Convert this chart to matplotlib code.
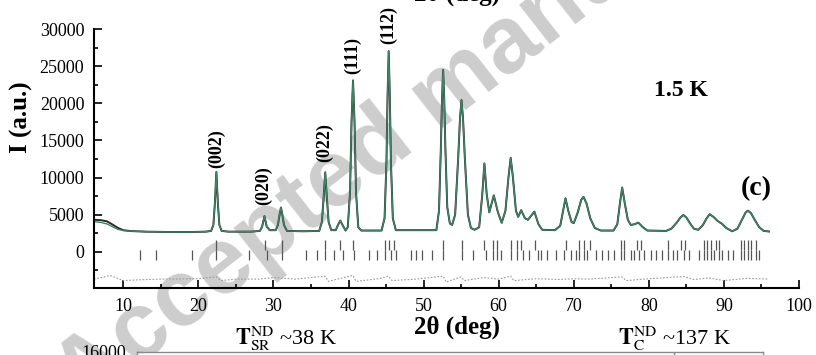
import numpy as np
import matplotlib.pyplot as plt
from matplotlib.ticker import MultipleLocator

plt.rcParams['font.family'] = ['Liberation Serif', 'DejaVu Serif']
plt.rcParams['mathtext.fontset'] = 'stix'

# observed profile, traced vertices (2theta in deg, intensity)
two_theta = [6.1, 7.0, 7.8, 8.5, 9.3, 10.0, 11.0, 13.0, 16.0, 19.0, 21.0, 21.7, 22.0, 22.2, 22.4, 22.6,
             22.8, 23.1, 24.0, 27.0, 28.2, 28.5, 28.8, 29.1, 29.5, 30.3, 30.6, 30.85, 31.0, 31.15,
             31.4, 31.8, 34.0, 36.1, 36.45, 36.7, 36.9, 37.1, 37.35, 37.7, 38.3, 38.6, 38.9, 39.2,
             39.6, 39.9, 40.2, 40.4, 40.6, 40.8, 41.0, 41.3, 41.7, 44.4, 44.8, 45.05, 45.2, 45.35,
             45.5, 45.65, 45.9, 46.3, 51.7, 52.05, 52.3, 52.45, 52.6, 52.75, 52.9, 53.15, 53.5, 53.8,
             54.2, 54.6, 54.85, 55.05, 55.25, 55.5, 55.9, 56.3, 56.8, 57.4, 57.8, 58.1, 58.4, 58.75,
             59.35, 59.9, 60.4, 60.9, 61.3, 61.6, 61.9, 62.3, 62.6, 63.0, 63.5, 63.9, 64.75, 65.3,
             65.8, 67.5, 68.2, 68.6, 68.9, 69.25, 69.7, 70.0, 70.5, 71.0, 71.3, 71.7, 72.2, 72.8,
             73.6, 75.3, 75.8, 76.15, 76.45, 76.8, 77.2, 77.6, 78.1, 78.6, 79.2, 79.8, 82.3, 83.0,
             83.7, 84.2, 84.6, 85.0, 85.5, 86.0, 86.6, 87.2, 87.7, 88.1, 88.6, 89.2, 89.7, 90.3,
             91.1, 91.8, 92.4, 92.9, 93.2, 93.6, 94.1, 94.7, 95.3, 96.0]
i_obs = [4300, 4250, 4100, 3700, 3200, 2900, 2780, 2700, 2650, 2650, 2700, 2800, 3600, 6500, 10750, 6500,
         3600, 2800, 2700, 2700, 2800, 3400, 4800, 3400, 2900, 2900, 3600, 5200, 5950, 5200,
         3600, 2800, 2750, 2800, 4000, 7500, 10700, 7500, 4000, 2900, 2900, 3600, 4200, 3600,
         2850, 3300, 8000, 17500, 23100, 17500, 8000, 3300, 2850, 2850, 4500, 12000, 21000, 27050,
         21000, 12000, 4500, 2900, 2900, 5500, 14000, 20500, 24500, 20500, 14000, 6000, 3800, 3600,
         5000, 12500, 18000, 20450, 18000, 12500, 5000, 3200, 2950, 3300, 7500, 11900, 7800, 5300,
         7600, 5300, 3900, 5500, 10000, 12650, 10000, 5500, 4700, 5600, 4500, 4300, 5400, 3700,
         2950, 2900, 3500, 5600, 7200, 5600, 4000, 3850, 5200, 7000, 7400, 6500, 4500, 3200,
         2850, 2850, 3700, 6500, 8650, 6500, 4300, 3600, 3700, 3920, 3300, 2850, 2800, 3100,
         3900, 4600, 4950, 4600, 3800, 3100, 2950, 3600, 4500, 5050, 4700, 4100, 3800, 3200,
         2750, 3100, 4300, 5300, 5530, 5200, 4300, 3300, 2800, 2720]
# calculated profile departs from the data only at low angle
calc_low = [4050, 3950, 3750, 3400, 3000, 2850]
i_calc = calc_low + i_obs[len(calc_low):]

# difference curve
diff_x = [6.1, 7.5, 8.2, 9.0, 10.0, 12.0, 15.0, 20.0, 22.4, 23.0, 25.0, 28.0, 30.0, 33.0, 36.9, 37.3,
          40.6, 41.0, 44.0, 45.3, 45.8, 49.0, 52.6, 53.0, 55.0, 55.4, 58.0, 60.0, 61.6, 62.0, 65.0,
          68.0, 70.0, 72.0, 76.4, 77.0, 80.0, 84.6, 86.0, 88.0, 90.0, 93.0, 96.0]
diff_y = [-3700, -3400, -3200, -3500, -3900, -3800, -3700, -3650, -3400, -3900, -3700, -3700, -3500,
          -3700, -3300, -4000, -3200, -4000, -3650, -3300, -3900, -3700, -3300, -4100, -3400, -3900,
          -3500, -3700, -3300, -3900, -3650, -3750, -3650, -3700, -3400, -3900, -3650, -3350, -3750,
          -3550, -3900, -3600, -3700]

# Bragg reflection positions
nuc_ticks = [22.4, 28.9, 31.1, 36.9, 38.9, 40.6, 44.9, 45.35, 46.1, 52.6, 55.1, 58.1, 59.3, 59.8,
             61.6, 62.4, 63.0, 64.8, 68.9, 70.7, 71.3, 72.1, 76.3, 76.7, 78.4, 78.9, 82.6, 84.3,
             84.8, 87.3, 87.8, 88.3, 88.9, 89.4, 92.3, 92.7, 93.2, 93.6, 94.3]
mag_ticks = [12.2, 14.4, 19.2, 22.4, 26.8, 29.2, 31.1, 34.3, 35.8, 36.9, 38.0, 39.2, 40.7, 42.7,
             43.8, 44.9, 45.6, 46.3, 48.3, 49.0, 49.8, 51.1, 52.6, 55.1, 56.6, 58.3, 59.3, 59.8,
             60.3, 61.6, 62.5, 63.2, 64.0, 65.2, 65.6, 66.5, 67.6, 68.7, 69.6, 70.3, 70.7, 71.4,
             71.8, 72.9, 73.8, 74.5, 75.4, 76.3, 76.7, 77.6, 78.0, 78.7, 79.4, 80.3, 80.9, 81.8,
             82.6, 83.2, 83.8, 84.7, 85.4, 86.7, 87.4, 87.8, 88.3, 88.7, 89.4, 89.8, 90.5, 91.2,
             92.3, 92.7, 93.2, 93.6, 94.3, 94.7]

peak_labels = ['(002)', '(020)', '(022)', '(111)', '(112)']
label_x = [22.4, 28.7, 36.8, 40.5, 45.4]
label_y = [11300, 6300, 12100, 24000, 28000]

fig = plt.figure(figsize=(8.16, 3.55), dpi=100)
ax = fig.add_axes([94/816, 1 - 288/355, 705/816, 259.5/355])
ax.set_facecolor('none')

ax.plot(two_theta, i_obs, color='#2a2a2a', lw=1.4)
ax.plot(two_theta, i_calc, color='#3d8566', lw=1.0)
ax.plot(diff_x, diff_y, color='#9a9a9a', lw=0.8, ls=(0, (1.5, 1.5)))
ax.vlines(nuc_ticks, 250, 1600, color='#555555', lw=0.9)
ax.vlines(mag_ticks, -1100, 250, color='#555555', lw=0.9)

for lab, x, y in zip(peak_labels, label_x, label_y):
    ax.text(x, y, lab, rotation=90, ha='center', va='bottom', fontsize=13, fontweight='bold')

ax.text(0.833, 0.761, '1.5 K', transform=ax.transAxes, ha='center', va='center',
        fontsize=17, fontweight='bold')
ax.text(0.94, 0.383, '(c)', transform=ax.transAxes, ha='center', va='center',
        fontsize=20, fontweight='bold')

ax.set_xlim(6.1, 100)
ax.set_ylim(-4900, 30100)
ax.xaxis.set_major_locator(MultipleLocator(10))
ax.xaxis.set_minor_locator(MultipleLocator(5))
ax.yaxis.set_major_locator(MultipleLocator(5000))
ax.yaxis.set_minor_locator(MultipleLocator(2500))
ax.set_yticks(range(0, 30001, 5000))
ax.tick_params(which='both', direction='in', labelsize=13, width=1.2)
ax.tick_params(which='major', length=6, pad=7)
ax.tick_params(which='minor', length=3)
for s in ['top', 'right']:
    ax.spines[s].set_visible(False)
for s in ['left', 'bottom']:
    ax.spines[s].set_linewidth(1.5)

ax.set_xlabel('2θ (deg)', fontsize=18, fontweight='bold')
ax.xaxis.set_label_coords(0.515, -0.105)
ax.set_ylabel('I (a.u.)', fontsize=18, fontweight='bold')
ax.yaxis.set_label_coords(-0.087, 0.659)

# next panel, only its top edge is visible
ax2 = fig.add_axes([137/816, 3/355 - 0.5, 626/816, 0.5])
ax2.set_ylim(0, 16000)
ax2.set_xlim(0, 1)
ax2.set_yticks([16000])
ax2.set_xticks([])
ax2.tick_params(direction='in', labelsize=13, length=4, pad=8)
for s in ax2.spines.values():
    s.set_color('#8a8a8a')
    s.set_linewidth(1.0)
ax2.axvline(0.858, color='#8a8a8a', lw=1.0)

fig.text(235/816, 1 - 345/355, r'$\mathbf{T}_{\mathrm{SR}}^{\mathrm{ND}}$ ~38 K', fontsize=16,
         ha='left', va='baseline')
fig.text(618/816, 1 - 345/355, r'$\mathbf{T}_{\mathrm{C}}^{\mathrm{ND}}$ ~137 K', fontsize=16,
         ha='left', va='baseline')

# bottom of the previous panel's axis title, cut by the top edge
fig.text(457/816, 1 - 6/355, '2θ (deg)', ha='center', va='bottom', fontsize=18, fontweight='bold')

# watermark
fig.text(445/816, 1 - 95/355, 'Accepted manuscript', rotation=38, rotation_mode='anchor',
         ha='center', va='center', fontsize=68, family='Liberation Sans', fontweight='bold',
         color='#cdcdcd', zorder=-1)

fig.savefig('out.png', dpi=100)
